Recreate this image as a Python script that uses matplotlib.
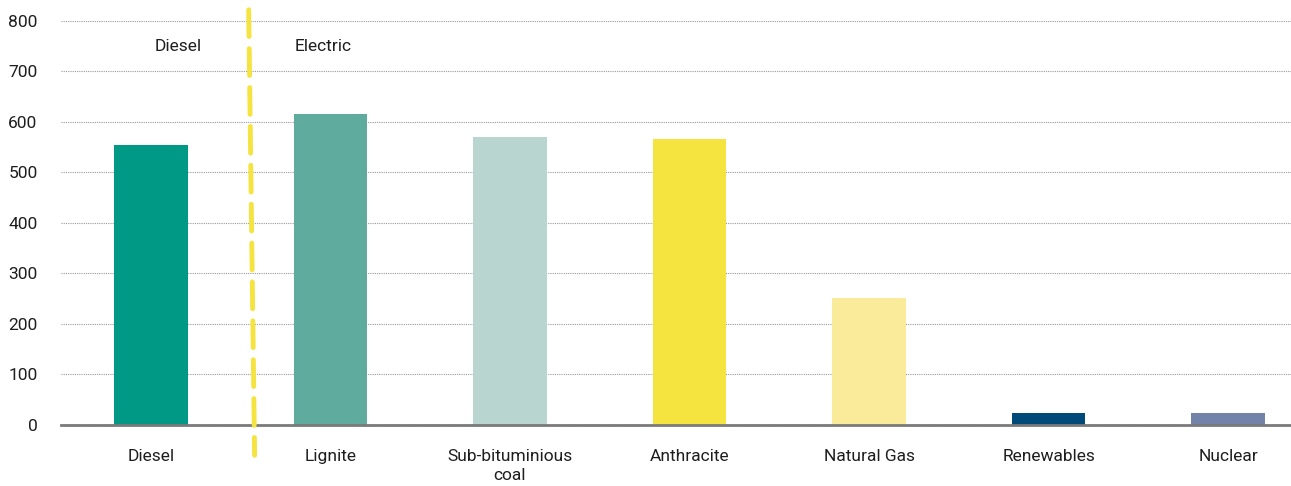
import matplotlib.pyplot as plt
from matplotlib.lines import Line2D

# Datos
categorias = ["Diesel", "Lignite", "Sub-bituminious\ncoal", "Anthracite",
              "Natural Gas", "Renewables", "Nuclear"]
valores = [555, 615, 570, 567, 252, 23, 23]
colores = ["#009985", "#5FAB9E", "#B8D5D0", "#F5E33F", "#FAEB9B", "#004A7A", "#7282A8"]
y_ticks = [0, 100, 200, 300, 400, 500, 600, 700, 800]

plt.rcParams['font.family'] = ['Roboto', 'DejaVu Sans']

fig = plt.figure(figsize=(12.91, 4.86), dpi=100)
ax = fig.add_axes([0.0473, 0.1255, 0.9527, 0.8315])

x = range(len(categorias))
ax.bar(x, valores, width=0.41, color=colores, zorder=3)

ax.set_xlim(-0.5, 6.35)
ax.set_ylim(0, 800)
ax.set_yticks(y_ticks)
ax.set_xticks(list(x))
ax.set_xticklabels(categorias, fontsize=12.5, color="#1e1e1e", linespacing=1.35)
ax.tick_params(axis='y', length=0, pad=17, labelsize=12.5, labelcolor="#1e1e1e")
ax.tick_params(axis='x', length=0, pad=17)

# Rejilla punteada
ax.grid(axis='y', linestyle=(0, (1, 1)), color="#999999", linewidth=0.8, zorder=0)
for lado in ["top", "right", "left"]:
    ax.spines[lado].set_visible(False)
ax.spines["bottom"].set_color("#7a7a7a")
ax.spines["bottom"].set_linewidth(2)
ax.spines["bottom"].set_zorder(4)

# Separador entre diesel y eléctrico
sep = Line2D([0.545, 0.578], [822, -60], color="#F5E33F", linewidth=3.5,
             linestyle=(0, (5.5, 2.5)), dash_capstyle='round', clip_on=False, zorder=5)
ax.add_line(sep)

ax.text(0.155, 750, "Diesel", ha='center', va='center', fontsize=12.5, color="#1e1e1e")
ax.text(0.962, 750, "Electric", ha='center', va='center', fontsize=12.5, color="#1e1e1e")

plt.savefig("out.png", dpi=100)
